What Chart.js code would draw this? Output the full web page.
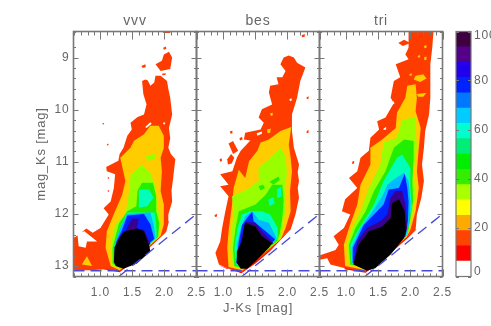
<!DOCTYPE html>
<html>
<head>
<meta charset="utf-8">
<style>
body { margin: 0; background: #fff; }
canvas { position: absolute; left: 0; top: 0; }
</style>
<script src="https://cdn.jsdelivr.net/npm/chart.js@4/dist/chart.umd.js"></script>
</head>
<body>
<canvas id="vvv" width="491" height="326"></canvas>
<canvas id="bes" width="491" height="326"></canvas>
<canvas id="tri" width="491" height="326"></canvas>
<canvas id="cbar" width="491" height="326"></canvas>
<script>
// density contours, [J-Ks, mag_Ks] outlines, one list per level
const levelColors = ['#ff0000', '#ff3c00', '#ffffff', '#ffcc00', '#99ff00', '#22ee00', '#00ffbb', '#00bbff', '#0022ff', '#3a0090', '#000000'];

const vvvRim = [[[1.30,13.12],[1.5,12.92],[1.7,12.72],[2.04,12.33],[1.9,12.45],[1.5,12.8],[1.3,13.0],[1.05,13.06]]];
const vvvRed = [
  [[1.31,13.10],[1.5,12.89],[1.7,12.69],[1.94,12.44],[2.03,12.33],[2.07,12.14],[2.06,12.01],[2.12,11.76],[2.11,11.55],[2.13,11.37],[2.15,11.15],[2.17,10.95],[2.10,10.85],[2.06,10.73],[2.09,10.55],[2.07,10.35],[2.12,10.09],[2.09,9.77],[2.06,9.6],[2.04,9.45],[1.94,9.35],[1.86,9.35],[1.84,9.48],[1.78,9.54],[1.74,9.44],[1.70,9.42],[1.65,9.45],[1.67,9.70],[1.72,9.90],[1.68,10.09],[1.58,10.14],[1.47,10.25],[1.49,10.38],[1.42,10.5],[1.36,10.73],[1.30,10.85],[1.28,10.98],[1.09,11.10],[1.10,11.18],[1.23,11.24],[1.21,11.50],[1.16,11.76],[1.05,11.89],[1.13,12.01],[1.0,12.27],[0.88,12.36],[0.78,12.28],[0.66,12.40],[0.58,12.46],[0.58,13.08],[0.85,13.08],[1.1,13.06]],
  [[1.99,8.94],[2.07,8.89],[2.12,9.0],[2.09,9.22],[1.94,9.26],[1.86,9.13],[1.96,9.06]],
  [[1.98,8.48],[2.09,8.48],[2.09,8.53],[1.98,8.53]],
  [[1.98,8.81],[2.02,8.79],[2.03,8.83],[1.99,8.85]],
  [[1.64,9.16],[1.70,9.13],[1.71,9.18],[1.66,9.2]],
  [[1.96,9.31],[2.02,9.3],[2.02,9.33],[1.97,9.34]],
  [[1.03,10.27],[1.05,10.25],[1.06,10.27],[1.04,10.29]],
  [[1.10,10.67],[1.12,10.65],[1.13,10.67],[1.11,10.69]],
  [[1.11,11.31],[1.13,11.29],[1.14,11.31],[1.12,11.33]],
  [[1.11,11.56],[1.13,11.54],[1.14,11.56],[1.12,11.58]]
];
const vvvHoles = [
  [[0.64,12.37],[0.75,12.33],[0.95,12.53],[0.79,12.53],[0.77,12.65],[0.66,12.62]],
  [[1.70,10.33],[1.78,10.24],[1.80,10.27],[1.72,10.35]],
  [[1.98,10.25],[2.01,10.24],[2.01,10.28],[1.98,10.28]]
];
const vvvGold = [
  [[1.30,13.08],[1.16,13.0],[1.08,12.65],[1.10,12.33],[1.21,12.0],[1.34,11.63],[1.39,11.37],[1.31,10.92],[1.47,10.73],[1.52,10.6],[1.68,10.47],[1.78,10.31],[1.91,10.31],[1.99,10.5],[1.99,10.73],[1.94,10.92],[1.96,11.18],[1.94,11.56],[1.99,11.82],[1.99,12.2],[1.94,12.42],[1.7,12.68],[1.5,12.88]],
  [[0.71,12.97],[0.79,12.81],[0.87,13.0]]
];
const vvvLime = [
  [[1.30,13.05],[1.17,12.97],[1.16,12.6],[1.23,12.2],[1.39,12.0],[1.45,11.55],[1.47,11.25],[1.65,11.05],[1.78,11.21],[1.86,11.47],[1.89,11.82],[1.94,12.18],[1.92,12.44],[1.7,12.67],[1.5,12.87]],
  [[1.70,10.88],[1.85,10.85],[1.85,10.95],[1.74,10.98]]
];
const vvvGreen = [[[1.31,13.04],[1.19,12.95],[1.19,12.65],[1.29,12.18],[1.42,11.95],[1.56,11.85],[1.58,11.55],[1.65,11.40],[1.82,11.40],[1.87,11.65],[1.87,11.95],[1.92,12.18],[1.90,12.44],[1.7,12.66],[1.5,12.86]]];
const vvvTeal = [
  [[1.31,13.03],[1.20,12.93],[1.21,12.62],[1.31,12.25],[1.42,11.97],[1.85,11.97],[1.87,12.2],[1.88,12.46],[1.7,12.65],[1.5,12.85]],
  [[1.60,11.53],[1.76,11.53],[1.83,11.69],[1.73,11.85],[1.60,11.88],[1.60,11.69]]
];
const vvvCyan = [[[1.31,13.02],[1.21,12.92],[1.23,12.55],[1.31,12.27],[1.42,12.0],[1.78,11.97],[1.83,12.2],[1.86,12.47],[1.7,12.64],[1.5,12.84]]];
const vvvBlue = [[[1.31,13.01],[1.22,12.91],[1.25,12.53],[1.34,12.3],[1.42,12.03],[1.68,12.0],[1.78,12.2],[1.84,12.48],[1.7,12.63],[1.5,12.83]]];
const vvvPurple = [[[1.31,13.0],[1.23,12.89],[1.26,12.53],[1.39,12.33],[1.49,12.09],[1.60,12.09],[1.57,12.28],[1.68,12.3],[1.78,12.58],[1.7,12.62],[1.5,12.82]]];
const vvvBlack = [[[1.21,12.92],[1.22,12.64],[1.29,12.47],[1.36,12.34],[1.57,12.28],[1.68,12.33],[1.76,12.6],[1.78,12.72],[1.57,12.95],[1.36,13.05],[1.24,13.0]]];

const besRim = [[[1.28,13.14],[1.5,12.95],[1.73,12.71],[2.06,12.28],[1.9,12.45],[1.5,12.8],[1.3,13.0],[1.05,13.05],[0.92,12.98]]];
const besRed = [
  [[1.29,13.12],[1.47,12.95],[1.73,12.69],[1.97,12.38],[2.05,12.30],[2.125,12.01],[2.18,11.69],[2.16,11.5],[2.18,11.37],[2.16,11.2],[2.18,11.05],[2.10,10.73],[2.07,10.41],[2.07,10.09],[2.15,9.77],[2.20,9.45],[2.28,9.19],[2.15,9.10],[2.10,9.0],[2.02,8.96],[1.94,9.0],[1.89,9.13],[1.97,9.26],[1.92,9.38],[1.83,9.38],[1.86,9.51],[1.73,9.54],[1.71,9.67],[1.76,9.90],[1.60,9.99],[1.55,10.15],[1.63,10.25],[1.58,10.38],[1.34,10.44],[1.32,10.57],[1.42,10.59],[1.27,10.79],[1.21,10.92],[1.14,11.18],[0.95,11.24],[1.08,11.44],[0.95,11.47],[1.08,11.66],[1.03,11.95],[0.98,12.27],[0.95,12.53],[0.875,12.75],[0.93,12.97],[1.06,13.04]],
  [[1.08,10.65],[1.15,10.6],[1.23,10.79],[1.15,10.85]],
  [[1.06,10.95],[1.12,10.85],[1.17,10.92],[1.13,11.03],[1.07,11.05]],
  [[0.94,10.95],[0.97,10.93],[0.98,10.98],[0.95,11.0]],
  [[1.10,10.42],[1.14,10.4],[1.14,10.45],[1.11,10.46]],
  [[1.25,10.55],[1.29,10.52],[1.30,10.57],[1.26,10.59]],
  [[0.86,12.02],[0.90,12.0],[0.90,12.05],[0.87,12.06]],
  [[2.30,9.76],[2.33,9.74],[2.33,9.79],[2.30,9.8]],
  [[2.30,10.41],[2.33,10.39],[2.33,10.44],[2.30,10.45]],
  [[2.22,8.57],[2.27,8.55],[2.27,8.6],[2.23,8.61]]
];
const besHoles = [
  [[2.03,9.8],[2.06,9.78],[2.07,9.82],[2.04,9.84]],
  [[1.52,10.45],[1.6,10.42],[1.6,10.46],[1.53,10.5]]
];
const besGold = [
  [[1.30,13.08],[1.08,13.02],[1.06,12.65],[1.08,12.33],[1.135,11.82],[1.16,11.5],[1.24,11.15],[1.34,11.31],[1.40,10.99],[1.53,10.79],[1.58,10.63],[1.71,10.57],[1.89,10.41],[2.06,10.33],[2.02,10.67],[2.05,10.92],[2.07,11.18],[2.04,11.56],[2.05,11.95],[1.97,12.27],[1.9,12.48],[1.7,12.68],[1.5,12.88]],
  [[1.73,10.07],[1.77,10.06],[1.77,10.11],[1.74,10.12]],
  [[1.68,10.38],[1.74,10.36],[1.73,10.44],[1.69,10.45]]
];
const besLime = [
  [[1.30,13.05],[1.15,13.0],[1.11,12.65],[1.135,12.27],[1.16,11.95],[1.135,11.66],[1.37,11.53],[1.55,11.37],[1.55,11.12],[1.73,10.92],[1.89,10.73],[1.97,10.89],[1.99,11.18],[1.97,11.56],[1.97,11.95],[1.92,12.30],[1.88,12.5],[1.7,12.67],[1.5,12.87]]
];
const besGreen = [
  [[1.31,13.04],[1.17,13.0],[1.15,12.65],[1.19,12.27],[1.24,11.95],[1.5,11.82],[1.66,11.63],[1.76,11.44],[1.92,11.44],[1.94,11.76],[1.92,12.08],[1.88,12.37],[1.84,12.52],[1.7,12.66],[1.5,12.86]],
  [[1.55,11.47],[1.62,11.44],[1.65,11.5],[1.58,11.55]],
  [[1.72,11.38],[1.86,11.28],[1.88,11.35],[1.78,11.44]]
];
const besTeal = [
  [[1.31,13.03],[1.20,12.97],[1.17,12.65],[1.22,12.27],[1.29,12.01],[1.42,11.95],[1.60,11.95],[1.73,12.01],[1.85,12.27],[1.85,12.46],[1.7,12.65],[1.5,12.85]],
  [[1.70,11.73],[1.78,11.68],[1.80,11.8],[1.72,11.85]],
  [[1.84,11.52],[1.90,11.48],[1.91,11.66],[1.84,11.7]]
];
const besCyan = [[[1.31,13.02],[1.20,12.91],[1.21,12.59],[1.27,12.27],[1.34,12.05],[1.45,11.95],[1.55,12.11],[1.71,12.17],[1.83,12.46],[1.7,12.64],[1.5,12.84]]];
const besBlue = [[[1.31,13.01],[1.20,12.94],[1.24,12.53],[1.29,12.21],[1.37,12.08],[1.45,11.96],[1.47,12.14],[1.66,12.33],[1.81,12.49],[1.7,12.63],[1.5,12.83]]];
const besPurple = [[[1.31,13.0],[1.21,12.91],[1.27,12.53],[1.34,12.15],[1.5,12.17],[1.60,12.33],[1.78,12.56],[1.7,12.62],[1.5,12.82]]];
const besBlack = [[[1.21,12.94],[1.21,12.72],[1.29,12.53],[1.32,12.27],[1.34,12.17],[1.5,12.24],[1.60,12.43],[1.76,12.56],[1.71,12.65],[1.5,12.91],[1.37,13.05],[1.27,13.05]]];

const triRim = [[[1.30,13.13],[1.45,12.99],[1.7,12.74],[1.95,12.47],[2.10,12.29],[1.9,12.45],[1.5,12.8],[1.3,13.0],[0.98,12.98],[0.97,13.06]]];
const triRed = [
  [[1.30,13.11],[1.45,12.97],[1.7,12.72],[1.95,12.45],[2.08,12.31],[2.10,12.01],[2.17,11.69],[2.21,11.37],[2.18,11.05],[2.21,10.73],[2.23,10.41],[2.29,10.09],[2.31,9.77],[2.31,9.45],[2.31,9.13],[2.34,8.81],[2.36,8.49],[1.97,8.49],[1.97,8.81],[1.92,8.94],[1.97,9.03],[1.77,9.13],[1.84,9.38],[1.74,9.45],[1.69,9.77],[1.74,9.87],[1.61,10.15],[1.48,10.22],[1.51,10.38],[1.375,10.54],[1.35,10.79],[1.22,10.92],[1.17,11.18],[1.04,11.31],[1.17,11.5],[0.98,11.72],[0.93,11.95],[1.06,12.01],[0.96,12.27],[0.80,12.43],[0.88,12.59],[0.83,12.69],[0.59,12.79],[0.58,12.88],[0.70,12.85],[0.75,12.97],[0.98,13.04]],
  [[1.81,8.72],[1.90,8.66],[2.0,8.72],[1.88,8.78]],
  [[1.09,11.0],[1.12,10.98],[1.12,11.03],[1.09,11.04]]
];
const triHoles = [
  [[1.58,10.36],[1.62,10.33],[1.62,10.38],[1.58,10.39]],
  [[1.70,9.87],[1.74,9.84],[1.75,9.88],[1.72,9.9]]
];
const triGold = [
  [[1.30,13.08],[0.98,13.0],[0.96,12.59],[1.04,12.27],[1.17,11.82],[1.22,11.44],[1.375,11.05],[1.375,10.73],[1.56,10.57],[1.77,10.35],[1.79,10.06],[1.92,9.77],[1.95,9.54],[2.08,9.51],[2.10,9.77],[2.08,10.03],[2.16,10.35],[2.13,10.73],[2.10,11.18],[2.13,11.5],[2.08,11.95],[2.0,12.3],[1.94,12.44],[1.7,12.68],[1.5,12.88]],
  [[2.05,9.42],[2.08,9.35],[2.2,9.32],[2.25,9.4],[2.15,9.47]],
  [[2.10,9.70],[2.25,9.68],[2.2,9.75],[2.12,9.75]],
  [[2.21,8.78],[2.25,8.76],[2.25,8.81],[2.22,8.82]],
  [[2.11,8.97],[2.15,8.95],[2.15,9.0],[2.12,9.0]],
  [[2.21,9.0],[2.25,8.98],[2.25,9.04],[2.22,9.05]],
  [[1.98,9.32],[2.02,9.3],[2.02,9.35],[1.99,9.35]]
];
const triLime = [[[1.30,13.05],[1.04,12.97],[1.01,12.59],[1.09,12.27],[1.22,11.95],[1.35,11.5],[1.53,11.05],[1.58,10.63],[1.79,10.54],[1.87,10.19],[2.08,10.15],[2.08,10.38],[2.10,10.73],[2.05,11.18],[2.08,11.63],[2.03,12.01],[1.97,12.33],[1.92,12.45],[1.7,12.67],[1.5,12.87]]];
const triGreen = [[[1.31,13.04],[1.06,12.97],[1.04,12.59],[1.14,12.27],[1.30,11.95],[1.43,11.56],[1.61,11.18],[1.74,10.73],[1.90,10.57],[2.05,10.6],[2.05,10.92],[2.03,11.37],[2.04,11.76],[2.0,12.08],[1.96,12.37],[1.91,12.46],[1.7,12.66],[1.5,12.86]]];
const triTeal = [[[1.31,13.03],[1.08,12.94],[1.06,12.59],[1.17,12.33],[1.30,12.08],[1.43,11.82],[1.58,11.37],[1.79,10.92],[1.87,10.86],[2.0,11.12],[2.0,11.5],[2.02,11.88],[1.97,12.14],[1.95,12.40],[1.9,12.47],[1.7,12.65],[1.5,12.85]]];
const triCyan = [[[1.31,13.02],[1.09,12.94],[1.08,12.65],[1.22,12.27],[1.375,12.01],[1.56,11.66],[1.64,11.44],[1.77,11.31],[1.90,11.21],[1.97,11.37],[2.0,11.76],[1.99,12.14],[1.93,12.43],[1.7,12.64],[1.5,12.84]]];
const triBlue = [[[1.31,13.01],[1.10,12.94],[1.10,12.65],[1.27,12.21],[1.43,12.01],[1.58,11.82],[1.66,11.53],[1.82,11.5],[1.91,11.23],[1.95,11.5],[1.97,11.76],[1.96,12.14],[1.92,12.43],[1.7,12.63],[1.5,12.83]]];
const triPurple = [[[1.31,13.0],[1.11,12.94],[1.17,12.53],[1.32,12.27],[1.53,12.14],[1.635,12.01],[1.69,11.69],[1.77,11.56],[1.87,11.56],[1.92,11.82],[1.95,12.27],[1.91,12.43],[1.7,12.62],[1.5,12.82]]];
const triBlack = [[[1.11,12.97],[1.19,12.59],[1.35,12.33],[1.56,12.24],[1.69,12.08],[1.71,11.79],[1.82,11.72],[1.91,11.95],[1.93,12.33],[1.90,12.46],[1.69,12.78],[1.45,13.04],[1.32,13.09]]];

// dashed limits, same in each panel
const limitFlat = [[0.58,13.09],[2.5,13.09]];
const limitSlope = [[1.29,13.2],[2.5,12.0]];

// colour bar
const barStep = [6.25,6.25,6.25,6.25,6.25,6.25,6.25,6.25,6.25,6.25,6.25,6.25,6.25,6.25,6.25,6.25];
const barColors = ['#ffffff','#ff0000','#ff4400','#ffaa00','#ffff00','#aaff00','#33ee00','#00ee00','#00ee77','#00ffcc','#00ccff','#0077ff','#0022ff','#2200ee','#550088','#3f0040'];

const grey = '#666666';
const frameGrey = '#777777';
const tickFont = { family: 'Liberation Sans', size: 12 };

// IDL style inward ticks, taken from the scales' own tick lists
const insideTicks = {
  id: 'insideTicks',
  beforeDraw(chart) { chart.ctx.letterSpacing = '0.8px'; },
  afterDatasetsDraw(chart) {
    const { ctx, chartArea: a, scales: { x, y } } = chart;
    ctx.save();
    ctx.strokeStyle = frameGrey;
    ctx.lineWidth = 1;
    ctx.beginPath();
    x.ticks.forEach(t => {
      const px = Math.round(x.getPixelForValue(t.value)) + 0.5;
      const len = Math.abs(t.value * 2 - Math.round(t.value * 2)) < 1e-6 ? 8 : 4;
      ctx.moveTo(px, a.top); ctx.lineTo(px, a.top + len);
      ctx.moveTo(px, a.bottom); ctx.lineTo(px, a.bottom - len + 1);
    });
    y.ticks.forEach(t => {
      const py = Math.round(y.getPixelForValue(t.value)) + 0.5;
      const len = Number.isInteger(t.value) ? 5 : 2.5;
      ctx.moveTo(a.left, py); ctx.lineTo(a.left + len, py);
      ctx.moveTo(a.right, py); ctx.lineTo(a.right - len, py);
    });
    ctx.stroke();
    ctx.lineWidth = 1.6;
    ctx.strokeRect(a.left, a.top, a.right - a.left, a.bottom - a.top);
    ctx.restore();
  }
};

function panel(id, left, levels, showY, showX) {
  const datasets = [];
  levels.forEach((polys, i) => {
    polys.forEach(poly => {
      datasets.push({
        data: poly.map(p => ({ x: p[0], y: p[1] })),
        showLine: true, fill: 'shape', backgroundColor: levelColors[i],
        borderWidth: 0, pointRadius: 0, tension: 0
      });
    });
  });
  [limitFlat, limitSlope].forEach(line => {
    datasets.push({
      data: line.map(p => ({ x: p[0], y: p[1] })),
      showLine: true, borderColor: '#4848dd', borderWidth: 1.3,
      borderDash: [11, 6], pointRadius: 0, fill: false
    });
  });
  datasets.forEach((d, i) => { d.order = datasets.length - i; });

  return new Chart(document.getElementById(id), {
    type: 'scatter',
    data: { datasets },
    plugins: [insideTicks],
    options: {
      responsive: false,
      animation: false,
      layout: { padding: { top: 0, right: 491 - left - 123, bottom: 0, left: 0 } },
      plugins: {
        legend: { display: false },
        tooltip: { enabled: false }
      },
      scales: {
        x: {
          type: 'linear', min: 0.58, max: 2.5,
          afterFit(s) { s.height = 49.5; },
          grid: { display: false, drawTicks: false },
          border: { display: false },
          ticks: {
            stepSize: 0.1, autoSkip: false, maxRotation: 0, padding: 9, color: grey, font: tickFont,
            callback: v => (Math.abs(v * 2 - Math.round(v * 2)) < 1e-6 ? v.toFixed(1) : '')
          },
          title: { display: showX, text: 'J-Ks [mag]', color: grey, font: { family: 'Liberation Sans', size: 13 }, padding: { top: 10, bottom: 10 } }
        },
        // empty axis along the top, it only carries the panel name
        top: {
          type: 'linear', position: 'top', min: 0.58, max: 2.5,
          afterFit(s) { s.height = 31.5; },
          grid: { display: false, drawTicks: false },
          border: { display: false },
          ticks: { display: false },
          title: { display: true, text: id, color: grey, font: { family: 'Liberation Sans', size: 14 }, padding: { top: 12.6, bottom: 0 } }
        },
        y: {
          type: 'linear', reverse: true, min: 8.5, max: 13.2,
          afterFit(s) { s.width = left; },
          grid: { display: false, drawTicks: false },
          border: { display: false },
          ticks: {
            display: showY, stepSize: 0.2, autoSkip: false, padding: 4, color: grey, font: tickFont,
            callback: v => (Number.isInteger(v) ? String(v) : '')
          },
          title: { display: showY, text: 'mag_Ks [mag]', color: grey, font: { family: 'Liberation Sans', size: 13 }, padding: { top: 34, bottom: 0 } }
        }
      }
    }
  });
}

panel('vvv', 73.5, [vvvRim, vvvRed, vvvHoles, vvvGold, vvvLime, vvvGreen, vvvTeal, vvvCyan, vvvBlue, vvvPurple, vvvBlack], true, false);
panel('bes', 196.5, [besRim, besRed, besHoles, besGold, besLime, besGreen, besTeal, besCyan, besBlue, besPurple, besBlack], false, true);
panel('tri', 319.5, [triRim, triRed, triHoles, triGold, triLime, triGreen, triTeal, triCyan, triBlue, triPurple, triBlack], false, false);

new Chart(document.getElementById('cbar'), {
  type: 'bar',
  data: {
    labels: [''],
    datasets: barStep.map((v, i) => ({ data: [v], backgroundColor: barColors[i], barPercentage: 1, categoryPercentage: 1 }))
  },
  plugins: [{
    id: 'barFrame',
    beforeDraw(chart) { chart.ctx.letterSpacing = '0.8px'; },
    afterDatasetsDraw(chart) {
      const { ctx, chartArea: a, scales: { y } } = chart;
      ctx.save();
      ctx.strokeStyle = frameGrey;
      ctx.lineWidth = 1;
      ctx.beginPath();
      y.ticks.forEach(t => {
        const py = Math.round(y.getPixelForValue(t.value)) + 0.5;
        ctx.moveTo(a.left, py); ctx.lineTo(a.left + 3, py);
        ctx.moveTo(a.right, py); ctx.lineTo(a.right - 3, py);
      });
      ctx.stroke();
      ctx.lineWidth = 1.2;
      ctx.strokeRect(a.left, a.top, a.right - a.left, a.bottom - a.top);
      ctx.restore();
    }
  }],
  options: {
    responsive: false,
    animation: false,
    layout: { padding: { top: 31.5, right: 0, bottom: 49.5, left: 456 } },
    plugins: { legend: { display: false }, tooltip: { enabled: false } },
    scales: {
      x: { stacked: true, display: false },
      y: {
        stacked: true, position: 'right', min: 0, max: 100,
        afterFit(s) { s.width = 20; },
        grid: { display: false, drawTicks: false },
        border: { display: false },
        ticks: {
          stepSize: 20, padding: 3, color: grey,
          font: { family: 'Liberation Sans', size: 12, lineHeight: 0.75 },
          callback: v => (v === 100 ? ['', '100'] : v === 0 ? ['0', ''] : String(v))
        }
      }
    }
  }
});
</script>
</body>
</html>
